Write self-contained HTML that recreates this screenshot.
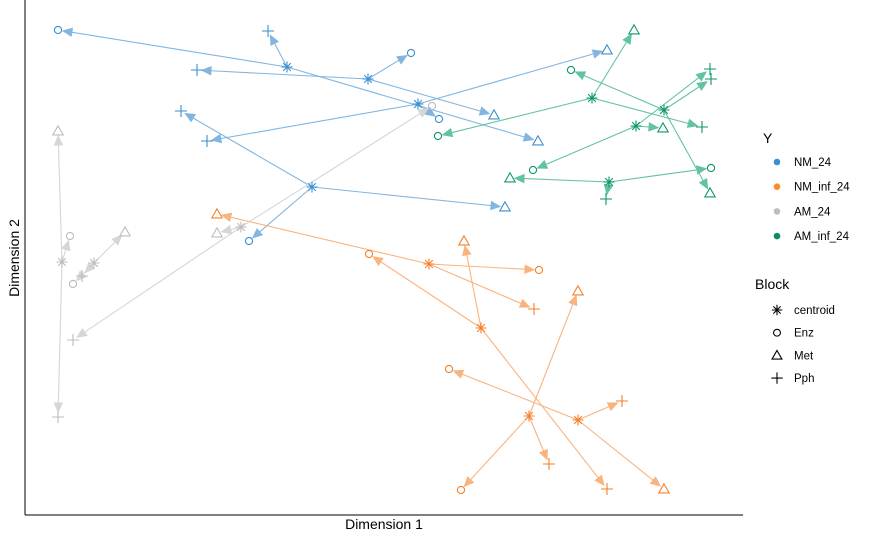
<!DOCTYPE html>
<html><head><meta charset="utf-8"><style>
body{margin:0;background:#fff;}
svg{display:block;font-family:"Liberation Sans",Arial,sans-serif;}
</style></head><body>
<svg id="chart" width="870" height="539">
<rect width="870" height="539" fill="#fff"/>
<g id="plot"></g>
<line x1="25" y1="0" x2="25" y2="515" stroke="#000" stroke-width="1"/>
<line x1="25" y1="515" x2="743" y2="515" stroke="#000" stroke-width="1"/>
<text x="384" y="529" font-size="14" text-anchor="middle">Dimension 1</text>
<text x="19" y="258" font-size="14" text-anchor="middle" transform="rotate(-90 19 258)">Dimension 2</text>
<g id="legend"></g>
</svg>
<script>
const groups = ["NM_24","NM_inf_24","AM_24","AM_inf_24"];
const centroidGroup = [0,0,0,0,1,1,1,1,2,2,2,3,3,3,3];
const centroidX = [-0.93,-0.12,0.38,-0.68,0.49,1.01,1.49,1.98,-3.18,-2.86,-1.39,2.12,2.84,2.56,2.29];
const centroidY = [2.03,1.91,1.66,0.83,0.06,-0.58,-1.46,-1.50,0.08,0.07,0.43,1.72,1.60,1.44,0.88];
const endCentroid = [0,0,0,1,1,1,2,2,2,3,3,3,4,4,4,5,5,5,6,6,6,7,7,7,8,8,8,9,9,9,10,10,10,11,11,11,12,12,12,13,13,13,14,14,14];
const endBlock = ["Enz","Pph","Met","Pph","Enz","Met","Met","Pph","Enz","Pph","Enz","Met","Met","Enz","Pph","Met","Enz","Pph","Met","Pph","Enz","Enz","Pph","Met","Met","Pph","Enz","Met","Enz","Pph","Met","Pph","Enz","Met","Enz","Pph","Enz","Met","Pph","Met","Enz","Pph","Met","Enz","Pph"];
const endX = [-3.22,-1.12,1.58,-1.83,0.31,1.14,2.27,-1.73,0.59,-1.99,-1.31,1.25,-1.63,1.59,1.54,0.84,-0.11,2.27,1.98,1.69,0.81,0.69,2.42,2.84,-3.22,-3.22,-3.10,-2.55,-3.07,-2.98,-1.63,-3.07,0.52,2.54,0.58,3.22,1.91,3.30,3.31,2.83,1.53,3.30,1.30,3.31,2.26];
const endY = [2.40,2.39,1.29,2.00,2.17,1.55,2.20,1.29,1.51,1.59,0.29,0.63,0.56,0.00,-0.39,0.29,0.16,-2.19,-0.21,-1.94,-2.20,-0.99,-1.31,-2.19,1.39,-1.47,0.34,0.38,-0.14,-0.06,0.37,-0.70,1.64,2.40,1.34,1.43,2.00,0.77,1.91,1.42,1.00,2.01,0.92,1.02,0.71];
const blocks = ["centroid","Enz","Met","Pph"];

const markerCol = ["#3a8fd2","#f5802a","#bcbcbc","#0d966a"];
const lineCol = ["#82b6e0","#f9b37e","#d6d6d6","#62c3a0"];
const legendCol = ["#3d8ed0","#f98d2b","#bdbdbd","#0b8c64"];
const sx = v => 380 + 100*v;
const sy = v => 270 - 100*v;
const NS = "http://www.w3.org/2000/svg";
const plot = document.getElementById("plot");
function mk(tag, attrs, parent){const e=document.createElementNS(NS,tag);for(const k in attrs)e.setAttribute(k,attrs[k]);(parent||plot).appendChild(e);return e;}

function drawShape(parent, block, x, y, col, sz){
  const g = mk("g", {stroke:col, fill:"none", "stroke-width":1.1}, parent);
  if(block==="Enz"){ mk("circle",{cx:x,cy:y,r:3.6*sz},g); }
  else if(block==="Met"){ const s=5.2*sz; mk("polygon",{points:`${x},${y-s} ${x-s},${y+s*0.75} ${x+s},${y+s*0.75}`},g); }
  else if(block==="Pph"){ const s=6*sz; mk("path",{d:`M${x-s},${y}H${x+s}M${x},${y-s}V${y+s}`},g); }
  else { const s=5.5*sz; mk("path",{d:`M${x-s},${y}H${x+s}M${x},${y-s}V${y+s}M${x-s*0.7},${y-s*0.7}L${x+s*0.7},${y+s*0.7}M${x-s*0.7},${y+s*0.7}L${x+s*0.7},${y-s*0.7}`},g); }
  return g;
}

for(let i=0;i<endX.length;i++){
  const c=endCentroid[i], gi=centroidGroup[c];
  const x1=sx(centroidX[c]), y1=sy(centroidY[c]), x2=sx(endX[i]), y2=sy(endY[i]);
  const dx=x2-x1, dy=y2-y1, L=Math.hypot(dx,dy), ux=dx/L, uy=dy/L;
  const tx=x2-ux*5, ty=y2-uy*5;
  const g=mk("g",{});
  
  
  mk("line",{x1:x1,y1:y1,x2:tx,y2:ty,stroke:lineCol[gi],"stroke-width":1.1},g);
  const hl=9, hw=4, bx=tx-ux*hl, by=ty-uy*hl;
  mk("polygon",{points:`${tx},${ty} ${bx-uy*hw},${by+ux*hw} ${bx+uy*hw},${by-ux*hw}`,fill:lineCol[gi],stroke:lineCol[gi]},g);
}
for(let i=0;i<endX.length;i++){
  const gi=centroidGroup[endCentroid[i]];
  const g=drawShape(plot,endBlock[i],sx(endX[i]),sy(endY[i]),markerCol[gi],1);
  
  
}
for(let c=0;c<centroidX.length;c++){
  const gi=centroidGroup[c];
  const g=drawShape(plot,"centroid",sx(centroidX[c]),sy(centroidY[c]),markerCol[gi],1);
  
  
}
const lg=document.getElementById("legend");
const t1=mk("text",{x:763,y:143,"font-size":14},lg); t1.textContent="Y";


groups.forEach((gname,i)=>{
  const y=162+i*24.7;
  const g=mk("g",{},lg);
  
  
  mk("circle",{cx:777,cy:y,r:3.3,fill:legendCol[i]},g);
  const t=mk("text",{x:794,y:y+4,"font-size":11.5},g); t.textContent=gname;
});
const t2=mk("text",{x:755,y:289,"font-size":14},lg); t2.textContent="Block";


blocks.forEach((b,i)=>{
  const y=310+i*22.7;
  const g=mk("g",{},lg);
  
  
  drawShape(g,b,777,y,"#000",0.95);
  const t=mk("text",{x:794,y:y+4,"font-size":11.5},g); t.textContent=b;
});
</script>
</body></html>
